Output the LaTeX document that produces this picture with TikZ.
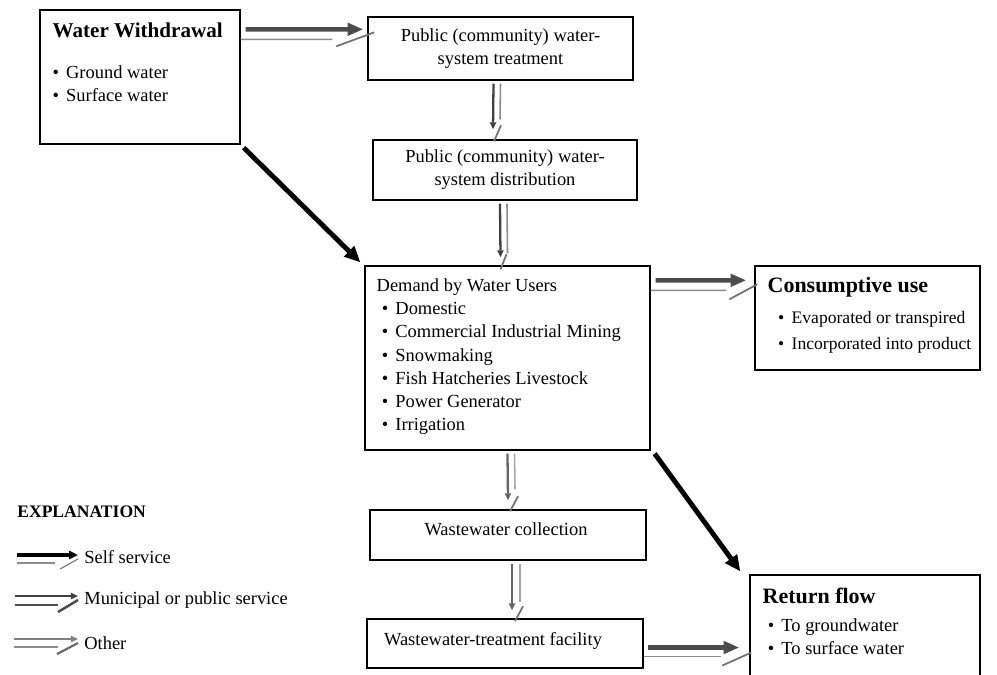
\documentclass[tikz,border=0pt]{standalone}
\usepackage{fontspec}
\setmainfont{Liberation Serif}
\usetikzlibrary{arrows.meta, positioning, calc}
\newcommand{\bul}{\makebox[0.27cm][l]{\textbullet}}

\begin{document}
\begin{tikzpicture}[x=0.02cm, y=-0.02cm,
  box/.style={draw, line width=0.8pt, inner sep=0pt},
  txt/.style={inner sep=0pt, align=left, font=\fontsize{10.5}{13.2}\selectfont},
  ctr/.style={align=center, font=\fontsize{10.5}{13}\selectfont},
  selfarr/.style={line width=2.8pt, -{Triangle[length=9pt,width=8pt]}},
  pubarr/.style={line width=2.6pt, black!70, -{Triangle[length=9pt,width=7pt]}},
  pubv/.style={line width=1.3pt, black!75, -{Triangle[length=4pt,width=3.5pt]}},
  thinln/.style={line width=0.9pt, black!45},
  slash/.style={line width=1pt, black!55}]
\useasboundingbox (0,0) rectangle (997,674);

% Kaesten
\node[box, minimum width=4cm, minimum height=2.68cm] (ww) at (140,77) {};
\node[box, ctr, minimum width=5.3cm, minimum height=1.26cm] (treat) at (500.5,48.5) {Public (community) water-\\system treatment};
\node[box, ctr, minimum width=5.28cm, minimum height=1.2cm] (dist) at (505,170) {Public (community) water-\\system distribution};
\node[box, minimum width=5.7cm, minimum height=3.68cm] (demand) at (507.5,358) {};
\node[box, minimum width=4.5cm, minimum height=2.08cm] (cons) at (867.5,318) {};
\node[box, minimum width=5.52cm, minimum height=1cm] (coll) at (508,535) {};
\node[box, minimum width=5.52cm, minimum height=0.98cm] (fac) at (505,643.5) {};
\node[box, minimum width=4.6cm, minimum height=2.3cm] (ret) at (865,632.5) {};

% Texte
\node[txt, anchor=north west] (wwtxt) at ($(ww.north west)+(13,13)$)
  {{\fontsize{12}{14}\selectfont\bfseries Water Withdrawal}\\[10pt]
   \bul Ground water\\ \bul Surface water};
\node[txt, anchor=north west] (demtxt) at ($(demand.north west)+(12,13)$)
  {Demand by Water Users\\
   \hspace{3pt}\bul Domestic\\
   \hspace{3pt}\bul Commercial Industrial Mining\\
   \hspace{3pt}\bul Snowmaking\\
   \hspace{3pt}\bul Fish Hatcheries Livestock\\
   \hspace{3pt}\bul Power Generator\\
   \hspace{3pt}\bul Irrigation};
\node[txt, anchor=north west, font=\fontsize{10}{13.5}\selectfont] (constxt) at ($(cons.north west)+(13,12)$)
  {{\fontsize{12.5}{14}\selectfont\bfseries Consumptive use}\\[4pt]
   \hspace{6pt}\bul Evaporated or transpired\\[1pt]
   \hspace{6pt}\bul Incorporated into product};
\node[ctr, anchor=north] (colltxt) at ($(coll.north)+(-2,7)$) {Wastewater collection};
\node[ctr, anchor=north] (factxt) at ($(fac.north)+(-12,8)$) {Wastewater-treatment facility};
\node[txt, anchor=north west] (rettxt) at ($(ret.north west)+(13,13)$)
  {{\fontsize{12.5}{14}\selectfont\bfseries Return flow}\\[3pt]
   \hspace{3pt}\bul To groundwater\\
   \hspace{3pt}\bul To surface water};

% Verbindungen
\draw[pubarr] ($(ww.north east)+(5,20)$) -- ($(treat.north west)+(-4,13)$);
\draw[thinln] ($(ww.north east)+(0,30)$) -- ($(treat.north west)+(-35,23)$);
\draw[slash] ($(treat.north west)+(-31,30)$) -- ($(treat.north west)+(7,16)$);

\draw[pubv] ($(treat.south)+(-7,3)$) -- ($(dist.north)+(-12,-10)$);
\draw[thinln] ($(treat.south)+(0,3)$) -- ($(dist.north)+(-5,-20)$);
\draw[slash] ($(dist.north)+(-11,2)$) -- ($(dist.north)+(-4,-14)$);

\draw[pubv] ($(dist.south)+(-5,3)$) -- ($(demand.north)+(-7,-8)$);
\draw[thinln] ($(dist.south)+(2,3)$) -- ($(demand.north)+(0,-12)$);
\draw[slash] ($(demand.north)+(-7,4)$) -- ($(demand.north)+(-1,-11)$);

\draw[selfarr] ($(ww.south east)+(3,3)$) -- ($(demand.north west)+(-4,-3)$);

\draw[pubarr] ($(demand.north east)+(5,15)$) -- ($(cons.north west)+(-8,15)$);
\draw[thinln] ($(demand.north east)+(0,25)$) -- ($(cons.north west)+(-28,25)$);
\draw[slash] ($(cons.north west)+(-25,34)$) -- ($(cons.north west)+(3,19)$);

\draw[selfarr] ($(demand.south east)+(4,3)$) -- ($(ret.north west)+(-9,-3)$);

\draw[pubv, black!60] ($(demand.south)+(0,3)$) -- ($(coll.north)+(0,-9)$);
\draw[thinln, black!35] ($(demand.south)+(7,3)$) -- ($(coll.north)+(7,-20)$);
\draw[slash] ($(coll.north)+(2,2)$) -- ($(coll.north)+(10,-13)$);

\draw[pubv, black!60] ($(coll.south)+(4,3)$) -- ($(fac.north)+(7,-8)$);
\draw[thinln, black!35] ($(coll.south)+(12,3)$) -- ($(fac.north)+(15,-16)$);
\draw[slash] ($(fac.north)+(10,3)$) -- ($(fac.north)+(18,-12)$);

\draw[pubarr] ($(fac.east)+(4,4)$) -- ($(ret.west)+(-10,15)$);
\draw[thinln] ($(fac.east)+(0,13)$) -- ($(ret.west)+(-28,24)$);
\draw[slash] ($(ret.west)+(-27,33)$) -- ($(ret.west)+(2,20)$);

% Legende
\node[inner sep=0pt, anchor=west, font=\fontsize{10}{12}\selectfont\bfseries] (expl) at (17,512) {EXPLANATION};
\node[txt, anchor=west] (lself) at (84,557) {Self service};
\node[txt, anchor=west] (lpub) at (84,600) {Municipal or public service};
\node[txt, anchor=west] (loth) at (84,643) {Other};

\draw[line width=2pt, -{Triangle[length=5pt,width=4.5pt]}] ($(lself.west)+(-67,-2)$) -- ($(lself.west)+(-6,-2)$);
\draw[thinln] ($(lself.west)+(-67,6)$) -- ($(lself.west)+(-29,6)$);
\draw[slash, line width=0.6pt] ($(lself.west)+(-24,12)$) -- ($(lself.west)+(-6,2)$);

\draw[pubv] ($(lpub.west)+(-69,-4)$) -- ($(lpub.west)+(-6,-4)$);
\draw[thinln, black!70, line width=1.4pt] ($(lpub.west)+(-69,5)$) -- ($(lpub.west)+(-26,5)$);
\draw[slash, black!70, line width=1.4pt] ($(lpub.west)+(-26,12)$) -- ($(lpub.west)+(-6,0)$);

\draw[pubv, black!50] ($(loth.west)+(-70,-4)$) -- ($(loth.west)+(-6,-4)$);
\draw[thinln] ($(loth.west)+(-70,4)$) -- ($(loth.west)+(-26,4)$);
\draw[slash, black!60, line width=1.2pt] ($(loth.west)+(-27,11)$) -- ($(loth.west)+(-6,0)$);

\end{tikzpicture}
\end{document}
